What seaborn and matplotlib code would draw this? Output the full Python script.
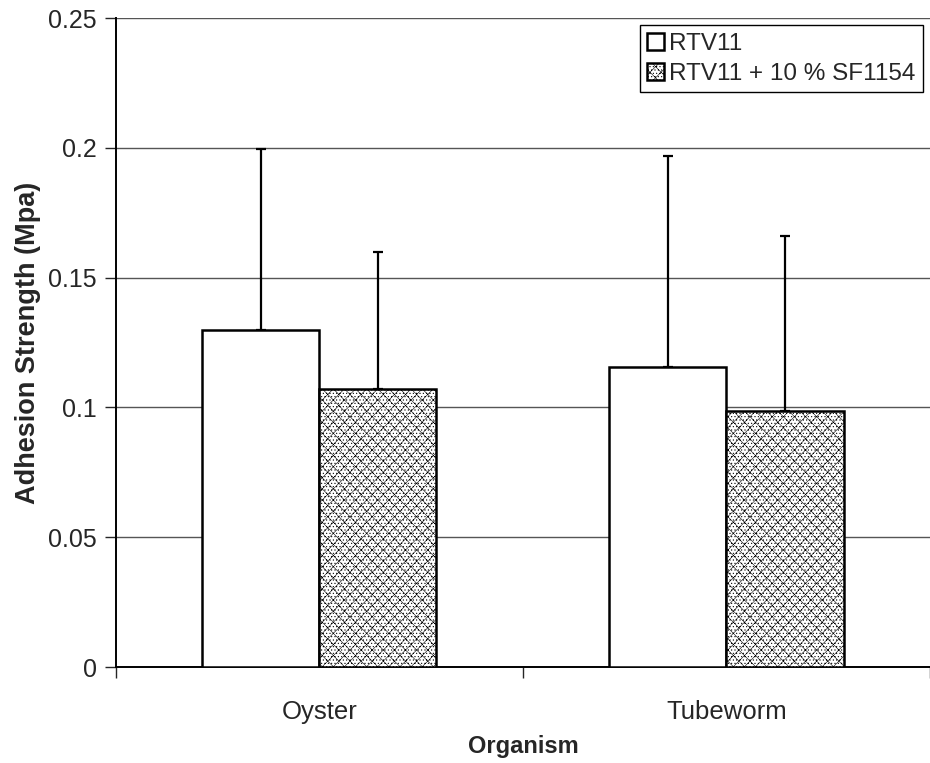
import pandas as pd
import numpy as np
import seaborn as sns
import matplotlib.pyplot as plt

# Data
organisms = ['Oyster', 'Tubeworm']
materials = ['RTV11', 'RTV11 + 10 % SF1154']
rtv11_mean = [0.130, 0.1155]
rtv11_err = [0.0695, 0.0815]
sf1154_mean = [0.107, 0.0985]
sf1154_err = [0.053, 0.0675]

data = pd.DataFrame({
    'Organism': organisms * 2,
    'Material': [materials[0]] * 2 + [materials[1]] * 2,
    'Strength': rtv11_mean + sf1154_mean,
})
errors = {materials[0]: rtv11_err, materials[1]: sf1154_err}

sns.set_style('white')
plt.rcParams['font.family'] = ['Liberation Sans', 'DejaVu Sans']
plt.rcParams['hatch.linewidth'] = 0.4
plt.rcParams['hatch.color'] = '#a0a0a0'

fig = plt.figure(figsize=(9.3, 7.63), dpi=100)
ax = fig.add_axes([0.1247, 0.1258, 0.8753, 0.8506])

sns.barplot(data=data, x='Organism', y='Strength', hue='Material',
            order=organisms, hue_order=materials, width=0.575,
            palette=['white', 'white'], edgecolor='black', linewidth=1.8,
            errorbar=None, ax=ax, zorder=3)

bar_containers = list(ax.containers)
hatches = ['', 'xxx.....']
for container, mat, hatch in zip(bar_containers, materials, hatches):
    xs = []
    for bar in container:
        bar.set_hatch(hatch)
        xs.append(bar.get_x() + bar.get_width() / 2)
    means = [b.get_height() for b in container]
    err = errors[mat]
    ax.errorbar(xs, means, yerr=[np.zeros(len(err)), err], fmt='none',
                ecolor='black', elinewidth=1.6, capsize=3.5, capthick=1.6, zorder=2)

ax.set_xlim(-0.5, 1.5)
ax.set_ylim(0, 0.25)
ax.set_yticks(np.arange(0, 0.26, 0.05))
ax.set_yticklabels(['0', '0.05', '0.1', '0.15', '0.2', '0.25'])
ax.yaxis.grid(True, color='#555555', linewidth=1.0, zorder=0)
ax.set_axisbelow(True)

ax.set_xticks([0, 1])
ax.set_xticks([-0.5, 0.5, 1.5], minor=True)
ax.tick_params(axis='x', which='major', length=0, pad=24, labelsize=18.5)
ax.tick_params(axis='x', which='minor', length=8, width=1, direction='out', bottom=True)
ax.tick_params(axis='y', length=8, width=1, direction='out', left=True, labelsize=18, pad=6)

for side in ['top', 'right']:
    ax.spines[side].set_visible(False)
for side in ['left', 'bottom']:
    ax.spines[side].set_color('black')
    ax.spines[side].set_linewidth(1.4)

ax.set_ylabel('Adhesion Strength (Mpa)', fontsize=19.5, fontweight='bold', labelpad=5)
ax.set_xlabel('Organism', fontsize=17, fontweight='bold', labelpad=8)

handles = [c.patches[0] for c in bar_containers]
ax.legend(handles, materials, loc='upper right', fontsize=17.5, frameon=True,
          fancybox=False, edgecolor='black', framealpha=1, handlelength=0.7,
          handleheight=0.7, handletextpad=0.2, borderaxespad=0.3,
          borderpad=0.3, labelspacing=0.35)

fig.savefig('out.png', dpi=100)
